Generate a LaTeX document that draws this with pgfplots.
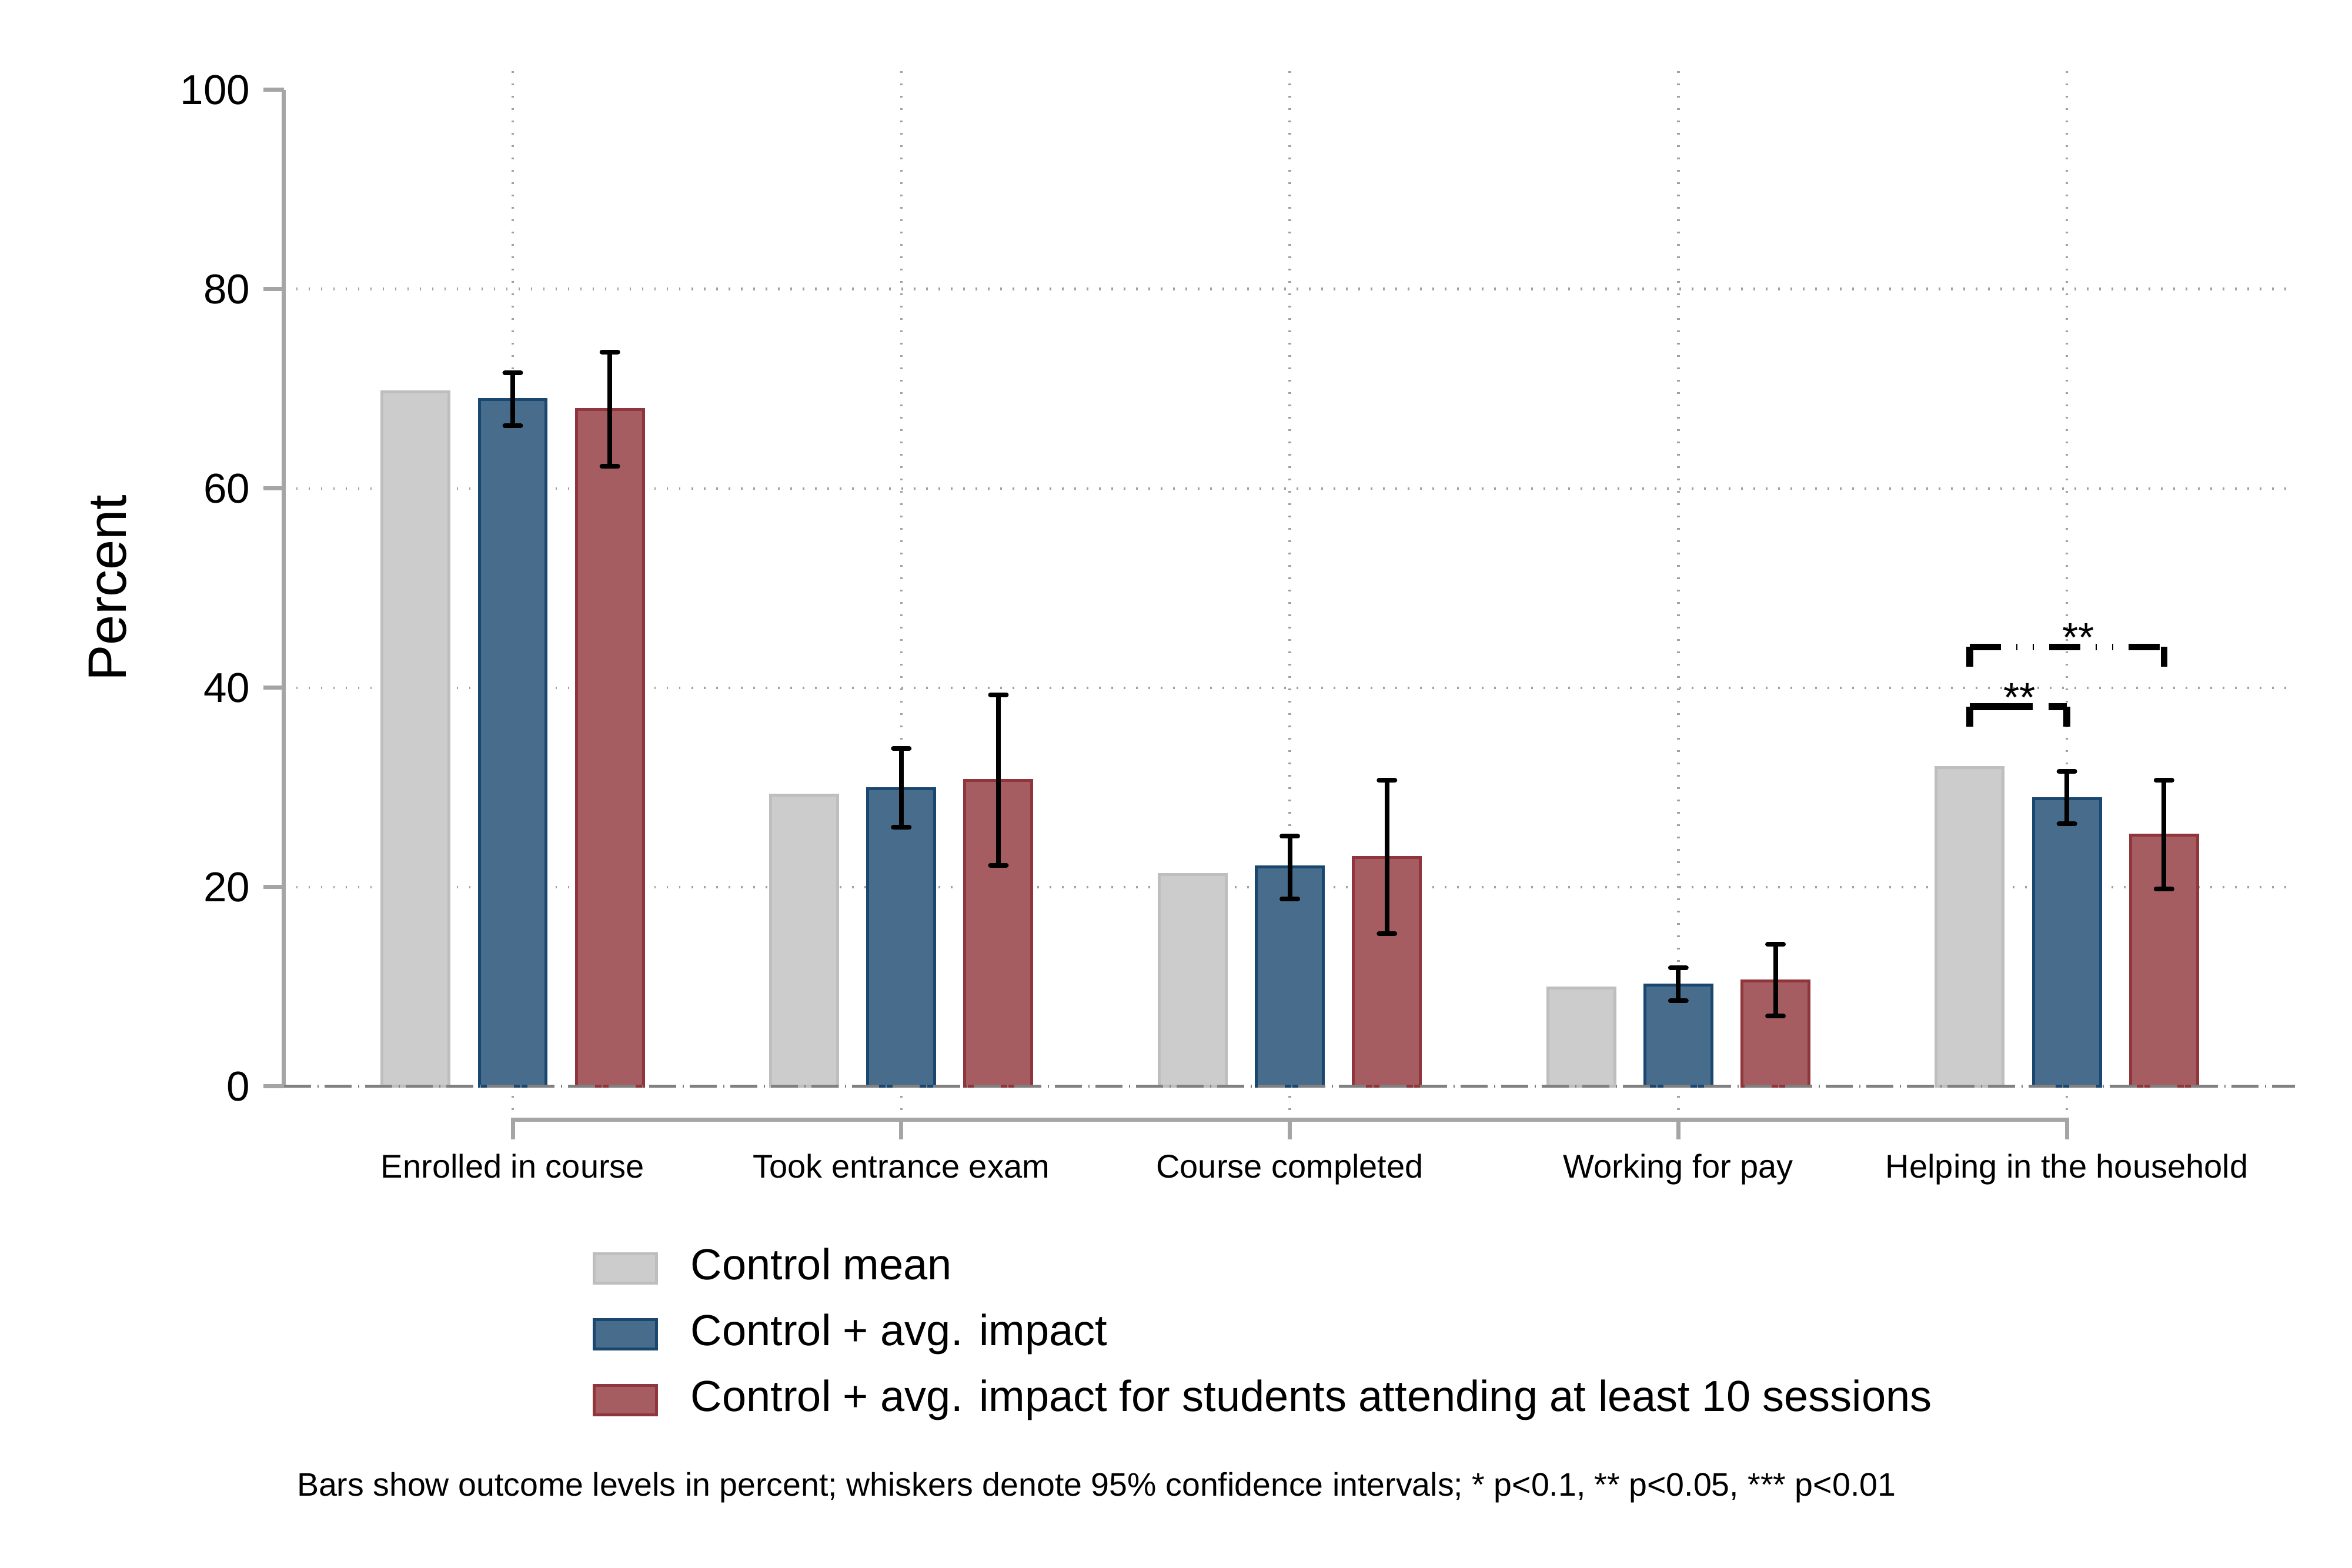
\documentclass[border=0pt]{standalone}
\usepackage{pgfplots}
\usepackage{pgfplotstable}
\pgfplotsset{compat=1.18}
\usepackage{fontspec}
\setmainfont{Liberation Sans}

\definecolor{ctlfill}{RGB}{204,204,204}
\definecolor{ctldraw}{RGB}{190,190,190}
\definecolor{navyfill}{RGB}{72,108,140}
\definecolor{navydraw}{RGB}{26,71,111}
\definecolor{maroonfill}{RGB}{166,93,98}
\definecolor{maroondraw}{RGB}{144,53,59}
\definecolor{axisgray}{RGB}{165,165,165}
\definecolor{gridgray}{RGB}{160,160,160}
\definecolor{zerogray}{RGB}{128,128,128}

% outcome levels (percent) with 95% confidence bounds
\pgfplotstableread{
cat ctl  avg   avglo avghi att   attlo atthi
1   69.7 68.9  66.3  71.6  67.9  62.2  73.7
2   29.2 29.9  26.0  33.9  30.7  22.2  39.3
3   21.25 22.0 18.8  25.1  23.0  15.35 30.7
4   9.86 10.2  8.6   11.9  10.6  7.06  14.25
5   32.0 28.9  26.35 31.6  25.2  19.8  30.7
}\outcomes

\pgfplotsset{
  boxlegend/.style={legend image code/.code={%
      \draw[##1, line width=0.5pt] (0.25pt,-2.5pt) rectangle (10.85pt,2.5pt);}},
  whiskers/.style={
    error bars/.cd, y dir=both, y explicit,
    error bar style={line width=0.8pt, black},
    error mark options={rotate=90, line width=0.8pt, black, mark size=1.35pt, line cap=round}},
}

\begin{document}
\begin{tikzpicture}[x=1pt,y=1pt]
\useasboundingbox (0,0) rectangle (400,266.7);
\begin{axis}[
  at={(48.3pt,77.9pt)}, anchor=south west,
  scale only axis, width=342pt, height=178.1pt,
  xmin=0.4113, xmax=5.587, ymin=-2.36, ymax=102.7,
  clip=false,
  ybar, bar width=0.1725,
  axis line style={draw=none},
  tick align=outside, major tick length=3.5pt,
  ytick={0,20,40,60,80,100}, ytick pos=left,
  ytick style={axisgray, line width=0.7pt},
  yticklabel style={font=\fontsize{7.1}{8}\selectfont, anchor=east, inner sep=0pt, xshift=-2.1pt},
  /pgf/number format/assume math mode=true,
  xtick={1,2,3,4,5}, xtick pos=bottom,
  xtick style={draw=none},
  xticklabels={Enrolled in course, Took entrance exam, Course completed, Working for pay, Helping in the household},
  xticklabel style={font=\fontsize{5.6}{7}\selectfont, anchor=base, inner sep=0pt, yshift=-8.1pt},
  xmajorgrids,
  major grid style={gridgray, line width=0.45pt, dash pattern=on 0.25pt off 1.85pt},
  ylabel={Percent},
  every axis y label/.style={at={(axis description cs:-0.0877,0.4986)}, rotate=90, anchor=center,
    font=\fontsize{9.2}{11}\selectfont},
  legend style={at={(axis description cs:0.1535,-0.1319)}, anchor=north west,
    draw=none, fill=none, inner sep=0pt, outer sep=0pt,
    row sep=4.2pt, column sep=5.6pt,
    font=\fontsize{7.4}{9}\selectfont,
    nodes={inner sep=0pt, text height=5.4pt, text depth=1.6pt}},
  legend cell align=left,
]

% horizontal reference grid
\pgfplotsinvokeforeach{20,40,60,80}{
  \draw[gridgray, line width=0.45pt, dash pattern=on 0.25pt off 1.85pt]
    (axis cs:0.4113,#1) -- (axis cs:5.587,#1);
}
% left axis line between 0 and 100
\draw[axisgray, line width=0.7pt] (axis cs:0.4113,0) -- (axis cs:0.4113,100);

\addplot[boxlegend, fill=ctlfill, draw=ctldraw, line width=0.5pt, bar shift=-0.25]
  table[x=cat, y=ctl] {\outcomes};
\addlegendentry{Control mean}

\addplot[boxlegend, fill=navyfill, draw=navydraw, line width=0.5pt, bar shift=0, whiskers]
  table[x=cat, y=avg,
        y error plus expr=\thisrow{avghi}-\thisrow{avg},
        y error minus expr=\thisrow{avg}-\thisrow{avglo}] {\outcomes};
\addlegendentry{Control + avg. impact}

\addplot[boxlegend, fill=maroonfill, draw=maroondraw, line width=0.5pt, bar shift=0.25, whiskers]
  table[x=cat, y=att,
        y error plus expr=\thisrow{atthi}-\thisrow{att},
        y error minus expr=\thisrow{att}-\thisrow{attlo}] {\outcomes};
\addlegendentry{Control + avg. impact for students attending at least 10 sessions}

% zero line
\draw[zerogray, line width=0.5pt, dash pattern=on 4.6pt off 1.1pt on 0.2pt off 1.0pt]
  (axis cs:0.4113,0) -- (axis cs:5.587,0);

% category axis set below the plot region
\draw[axisgray, line width=0.7pt]
  (axis cs:1,-5.31) -- (axis cs:1,-3.36) -- (axis cs:5,-3.36) -- (axis cs:5,-5.31);
\pgfplotsinvokeforeach{2,3,4}{
  \draw[axisgray, line width=0.7pt] (axis cs:#1,-3.36) -- (axis cs:#1,-5.31);
}

% significance brackets
\draw[line width=1.15pt] (axis cs:4.75,36.1) -- (axis cs:4.75,38.1);
\draw[line width=1.15pt] (axis cs:5,36.1) -- (axis cs:5,38.1);
\draw[line width=1.15pt, dash pattern=on 10.7pt off 2.7pt]
  (axis cs:4.75,38.1) -- (axis cs:5,38.1);
\node[anchor=base, inner sep=0pt, font=\fontsize{7}{8}\selectfont] at (axis cs:4.878,37.6) {**};

\draw[line width=1.15pt] (axis cs:4.75,42.1) -- (axis cs:4.75,44.1);
\draw[line width=1.15pt] (axis cs:5.25,42.1) -- (axis cs:5.25,44.1);
\draw[line width=1.15pt, dash pattern=on 5.3pt off 2.6pt on 0.2pt off 2.6pt on 0.2pt off 2.6pt]
  (axis cs:4.75,44.1) -- (axis cs:5.25,44.1);
\node[anchor=base, inner sep=0pt, font=\fontsize{7}{8}\selectfont] at (axis cs:5.03,43.6) {**};
\end{axis}

\node[anchor=base west, inner sep=0pt, font=\fontsize{5.55}{7}\selectfont] at (50.3,12.2)
  {Bars show outcome levels in percent; whiskers denote 95\% confidence intervals; * p<0.1, ** p<0.05, *** p<0.01};
\end{tikzpicture}
\end{document}
